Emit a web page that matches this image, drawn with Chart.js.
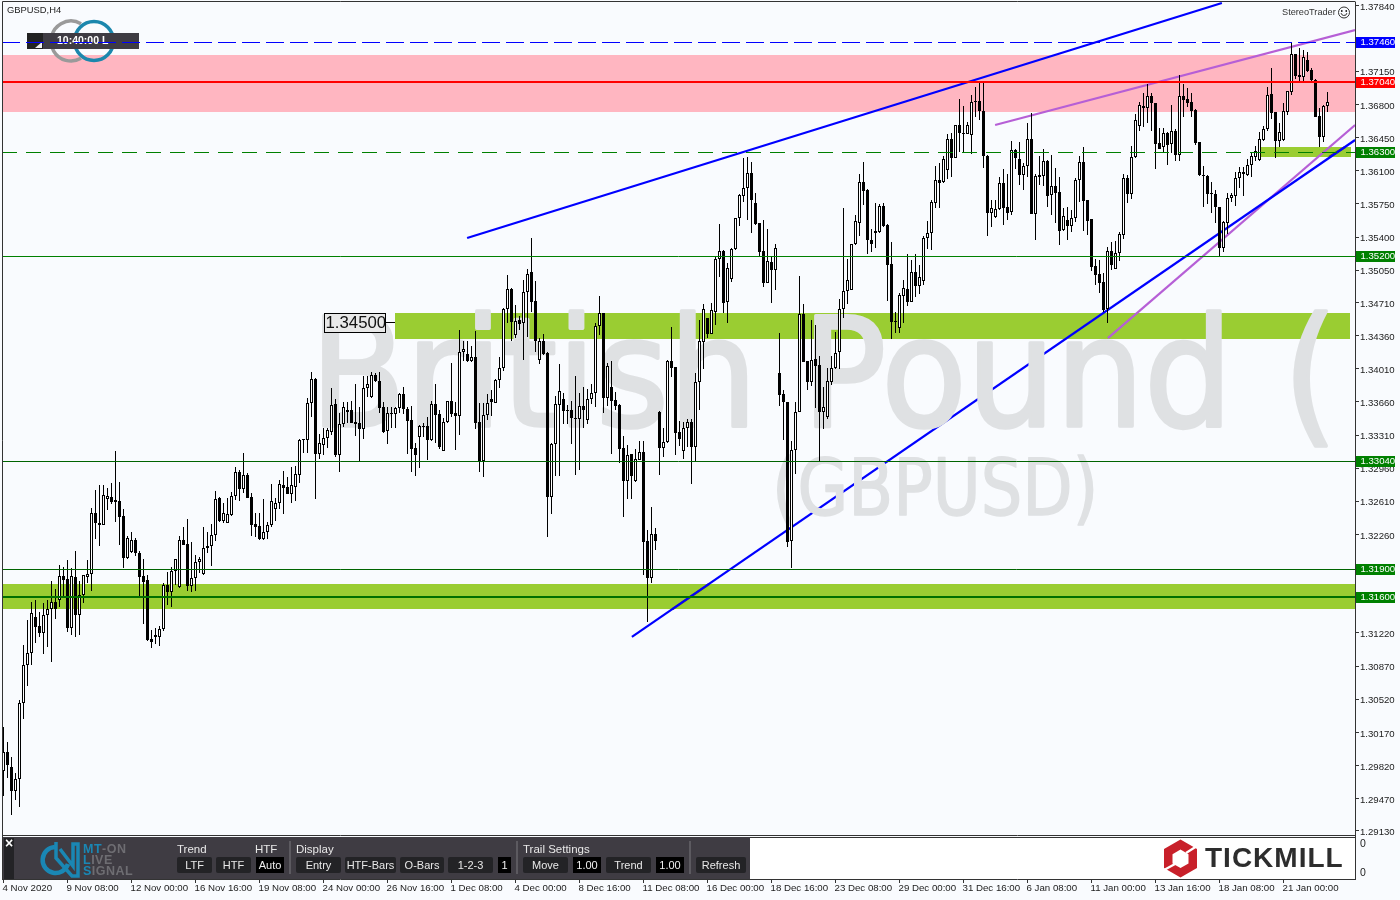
<!DOCTYPE html>
<html><head><meta charset="utf-8"><title>GBPUSD,H4</title>
<script src="https://cdn.jsdelivr.net/npm/chart.js@4"></script>
<style>
html,body{margin:0;padding:0;background:#f9fbfe;width:1400px;height:900px;overflow:hidden;font-family:"Liberation Sans",Arial,sans-serif}
#c{position:absolute;left:0;top:0}
.abs{position:absolute;white-space:nowrap}
#sub{left:3px;top:837px;width:1352px;height:42px;background:#fff;border-top:1px solid #333;box-sizing:border-box}
#panel{left:3px;top:837px;width:747px;height:42px;background:#3f3c43}
.lbl{color:#e8e8e8;font-size:11.5px;line-height:14px}
.btn{background:#232326;color:#e8e8e8;font-size:11px;height:16px;line-height:16px;text-align:center;border-radius:2px}
.blk{background:#000;color:#f0f0f0;border-radius:0}
.div{background:#5c5a60;width:2px;height:33px;top:841px}
.ml{font:bold 12.5px "Liberation Sans",Arial,sans-serif;letter-spacing:0.5px;color:#6e6d72;line-height:11px}
.ml b{color:#1a87b4}
</style></head><body>
<canvas id="c" width="1400" height="900"></canvas>
<div class="abs" id="sub"></div>
<div class="abs" id="panel"></div>
<div id="tools"></div>
<svg class="abs" style="left:1160px;top:837px" width="42" height="42" viewBox="1160 837 42 42">
<path fill="#c8202a" fill-rule="evenodd" d="M1180.5 839.5L1197 849V868L1180.5 877.5L1164 868V849ZM1180.5 849.5L1172.5 854.2V863.4L1180.5 868L1188.5 863.4V854.2Z"/>
<path stroke="#fff" stroke-width="2.2" d="M1186 853L1197 846M1164 870L1175 864"/>
</svg>
<div class="abs" style="left:1205px;top:841px;font:bold 28px 'Liberation Sans',Arial,sans-serif;letter-spacing:1px;color:#2d2d2d;line-height:34px">TICKMILL</div>
<div class="abs" style="left:1360px;top:837px;font-size:10.5px;color:#222">0</div>
<div class="abs" style="left:1360px;top:866px;font-size:10.5px;color:#222">0</div>
<svg class="abs" style="left:40px;top:842px" width="42" height="36" viewBox="0 0 42 36">
<path d="M15 5A13 13 0 1 0 28 22" fill="none" stroke="#1a87b4" stroke-width="4.5"/>
<path d="M16 0V16L32 34H38V2H33V24L20 7" fill="none" stroke="#1a87b4" stroke-width="3.5"/>
</svg>
<div class="abs ml" style="left:83px;top:844px"><b>MT</b>-ON</div>
<div class="abs ml" style="left:83px;top:855px"><b>L</b>IVE</div>
<div class="abs ml" style="left:83px;top:866px"><b>S</b>IGNAL</div>
<script>
const opens=[1.29767,1.29968,1.29802,1.29556,1.29676,1.30478,1.30879,1.31006,1.31386,1.31294,
1.31224,1.31407,1.31470,1.31544,1.31565,1.31819,1.31787,1.31277,1.31808,1.31414,
1.31618,1.31815,1.31840,1.32484,1.32378,1.32364,1.32632,1.32653,1.32621,1.32611,
1.32452,1.32016,1.32076,1.32199,1.32062,1.31822,1.31777,1.31154,1.31196,1.31182,
1.31259,1.31724,1.31657,1.31872,1.31710,1.32199,1.32157,1.31720,1.31798,1.31967,
1.31843,1.32114,1.32142,1.32252,1.32642,1.32406,1.32378,1.32466,1.32663,1.32917,
1.32744,1.32885,1.32653,1.32368,1.32346,1.32209,1.32283,1.32357,1.32533,1.32589,
1.32779,1.32758,1.32691,1.32765,1.32885,1.33265,1.33261,1.33652,1.33898,1.33114,
1.33209,1.33275,1.33346,1.33634,1.33103,1.33430,1.33550,1.33571,1.33444,1.33434,
1.33378,1.33803,1.33712,1.33941,1.33877,1.33603,1.33356,1.33536,1.33529,1.33592,
1.33740,1.33582,1.33466,1.33173,1.33293,1.33406,1.33402,1.33261,1.33634,1.33529,
1.33145,1.33445,1.33666,1.33543,1.33515,1.34184,1.34162,1.34096,1.34131,1.33448,
1.33040,1.33518,1.33687,1.33652,1.33888,1.34015,1.34637,1.34849,1.34370,1.34521,
1.34490,1.34817,1.35028,1.34722,1.34099,1.34300,1.34177,1.32660,1.33212,1.33631,
1.33687,1.33571,1.33571,1.33487,1.33483,1.33613,1.33473,1.33687,1.33758,1.34458,
1.34595,1.33705,1.33814,1.33677,1.33628,1.33170,1.32829,1.33110,1.32829,1.33047,
1.33128,1.32192,1.31805,1.32266,1.33554,1.33177,1.33233,1.34088,1.34025,1.33338,
1.33138,1.33381,1.33444,1.33180,1.33866,1.34289,1.34542,1.34380,1.34612,1.35165,
1.35249,1.34718,1.34961,1.35270,1.35598,1.35837,1.35914,1.36073,1.35756,1.35545,
1.35249,1.34918,1.35137,1.35052,1.33961,1.33740,1.33655,1.32195,1.33148,1.33557,
1.34588,1.34091,1.33870,1.34109,1.34046,1.33557,1.33497,1.33870,1.34021,1.34183,
1.34637,1.34827,1.34845,1.35323,1.35552,1.35978,1.35897,1.35369,1.35464,1.35453,
1.35728,1.35528,1.35116,1.34514,1.34437,1.34782,1.34852,1.34718,1.35028,1.34887,
1.34940,1.35387,1.35440,1.35763,1.35999,1.35985,1.36105,1.36432,1.36239,1.36580,
1.36499,1.36492,1.36474,1.36833,1.36833,1.36728,1.36256,1.35658,1.35616,1.35693,
1.35968,1.35714,1.35668,1.36316,1.36224,1.36059,1.36147,1.36432,1.35640,1.36052,
1.36048,1.36200,1.35841,1.35936,1.35873,1.35478,1.35580,1.35521,1.35598,1.35999,
1.36189,1.35788,1.35588,1.35091,1.35010,1.34926,1.34637,1.35249,1.35066,1.35228,
1.35425,1.36020,1.35858,1.36242,1.36576,1.36780,1.36766,1.36886,1.36812,1.36390,
1.36347,1.36495,1.36383,1.36516,1.36263,1.36886,1.36854,1.36826,1.36738,1.36400,
1.36052,1.36045,1.35862,1.35855,1.35714,1.35281,1.35552,1.35809,1.35837,1.36020,
1.36083,1.36059,1.36157,1.36249,1.36210,1.36428,1.36537,1.36907,1.36717,1.36418,
1.36425,1.36724,1.36935,1.37329,1.37090,1.37093,1.37266,1.37160,1.37062,1.36675,1.36460,1.36780];
const closes=[1.29968,1.29827,1.29556,1.29676,1.30478,1.30879,1.31006,1.31428,1.31287,1.31224,
1.31407,1.31470,1.31544,1.31477,1.31819,1.31784,1.31277,1.31819,1.31414,1.31618,
1.31829,1.31840,1.32484,1.32385,1.32364,1.32674,1.32663,1.32603,1.32603,1.32449,
1.32016,1.32220,1.32199,1.32069,1.31815,1.31762,1.31147,1.31125,1.31182,1.31259,
1.31724,1.31653,1.31872,1.31998,1.32199,1.32153,1.31720,1.31798,1.31967,1.31998,
1.32114,1.32142,1.32252,1.32632,1.32406,1.32484,1.32473,1.32663,1.32917,1.32744,
1.32885,1.32649,1.32364,1.32343,1.32209,1.32283,1.32357,1.32610,1.32589,1.32790,
1.32755,1.32691,1.32779,1.32895,1.33254,1.33254,1.33645,1.33898,1.33114,1.33223,
1.33275,1.33360,1.33624,1.33103,1.33423,1.33603,1.33571,1.33441,1.33423,1.33378,
1.33803,1.33846,1.33941,1.33877,1.33599,1.33342,1.33539,1.33539,1.33592,1.33740,
1.33582,1.33462,1.33166,1.33103,1.33402,1.33399,1.33261,1.33634,1.33525,1.33180,
1.33445,1.33666,1.33532,1.33515,1.34184,1.34215,1.34096,1.34131,1.33441,1.33033,
1.33518,1.33645,1.33663,1.33891,1.34015,1.34637,1.34849,1.34500,1.34518,1.34479,
1.34817,1.35007,1.34718,1.34307,1.34303,1.34162,1.32660,1.33216,1.33635,1.33772,
1.33568,1.33564,1.33490,1.33483,1.33613,1.33578,1.33687,1.33751,1.34458,1.34595,
1.33705,1.34036,1.33673,1.33620,1.33163,1.32829,1.33096,1.32878,1.33054,1.33128,
1.32185,1.31805,1.32266,1.32195,1.33174,1.33233,1.34095,1.34021,1.33335,1.33272,
1.33381,1.33448,1.33180,1.33866,1.34299,1.34637,1.34377,1.34626,1.35165,1.35249,
1.34707,1.35070,1.35274,1.35598,1.35844,1.35914,1.36073,1.35791,1.35541,1.35246,
1.34918,1.35144,1.35052,1.35288,1.33736,1.33655,1.32184,1.33148,1.33557,1.34584,
1.34084,1.33870,1.34099,1.34039,1.33557,1.33606,1.33877,1.34021,1.34172,1.34637,
1.34827,1.34947,1.35323,1.35566,1.35978,1.35890,1.35372,1.35327,1.35446,1.35728,
1.35517,1.35109,1.34507,1.34507,1.34785,1.34859,1.34715,1.35028,1.34887,1.34975,
1.35387,1.35440,1.35767,1.35999,1.35975,1.36221,1.36432,1.36239,1.36580,1.36495,
1.36492,1.36580,1.36823,1.36823,1.36728,1.36260,1.35658,1.35704,1.35693,1.35968,
1.35711,1.35658,1.36316,1.36239,1.36056,1.36147,1.36432,1.35647,1.36041,1.36038,
1.36200,1.35834,1.35936,1.35869,1.35468,1.35619,1.35521,1.35598,1.35999,1.36189,
1.35785,1.35573,1.35088,1.35003,1.34915,1.34630,1.35249,1.35105,1.35228,1.35432,
1.36020,1.35855,1.36242,1.36632,1.36791,1.36763,1.36886,1.36812,1.36383,1.36333,
1.36495,1.36375,1.36516,1.36263,1.36886,1.36851,1.36815,1.36734,1.36397,1.36052,
1.36045,1.35858,1.35855,1.35714,1.35281,1.35556,1.35809,1.35841,1.36020,1.36083,
1.36062,1.36161,1.36256,1.36305,1.36432,1.36537,1.36896,1.36713,1.36418,1.36506,
1.36727,1.36939,1.37329,1.37104,1.37107,1.37301,1.37157,1.37058,1.36671,1.36460,1.36780,1.36822];
const highs=[1.30232,1.30066,1.29915,1.29746,1.30513,1.31094,1.31358,1.31544,1.31569,1.31442,
1.31537,1.31569,1.31769,1.31685,1.31935,1.31917,1.31988,1.31903,1.32083,1.31769,
1.31836,1.31988,1.32537,1.32727,1.32779,1.32779,1.32751,1.32804,1.33142,1.32815,
1.32526,1.32241,1.32283,1.32220,1.32083,1.31998,1.31833,1.31249,1.31270,1.31291,
1.31745,1.31861,1.31917,1.31998,1.32241,1.32336,1.32420,1.32178,1.32040,1.32019,
1.32336,1.32283,1.32368,1.32720,1.32653,1.32596,1.32646,1.32709,1.32969,1.32941,
1.33121,1.32906,1.32695,1.32484,1.32491,1.32639,1.32396,1.32790,1.32642,1.32832,
1.32927,1.32864,1.32969,1.32983,1.33265,1.33265,1.33698,1.33972,1.33909,1.33321,
1.33381,1.33381,1.33807,1.33687,1.33539,1.33663,1.33659,1.33673,1.33849,1.33610,
1.33930,1.33930,1.33972,1.33962,1.33972,1.33663,1.33610,1.33603,1.33603,1.33751,
1.33814,1.33603,1.33617,1.33223,1.33416,1.33434,1.33504,1.33673,1.33849,1.33575,
1.33490,1.33666,1.34067,1.33659,1.34419,1.34300,1.34300,1.34250,1.34409,1.33652,
1.33652,1.33744,1.33786,1.33898,1.34134,1.34648,1.35000,1.34859,1.34687,1.34571,
1.34947,1.35063,1.35387,1.34937,1.34331,1.34374,1.34187,1.33223,1.33723,1.34060,
1.33754,1.33631,1.33666,1.33934,1.33758,1.33814,1.33800,1.33849,1.34497,1.34778,
1.34602,1.34067,1.34092,1.33761,1.33642,1.33300,1.33202,1.33110,1.33163,1.33247,
1.33247,1.32308,1.32554,1.32325,1.33561,1.33381,1.34102,1.34450,1.34032,1.33458,
1.33451,1.33476,1.33476,1.33961,1.34524,1.34690,1.34549,1.34700,1.35193,1.35538,
1.35263,1.35123,1.35281,1.35598,1.35851,1.36231,1.36242,1.36196,1.35862,1.35552,
1.35580,1.35481,1.35193,1.35323,1.34387,1.33785,1.33662,1.33247,1.33655,1.34989,
1.34693,1.34091,1.34524,1.34472,1.34144,1.33821,1.34014,1.34144,1.34401,1.34746,
1.35703,1.35172,1.35327,1.35633,1.36066,1.36192,1.35904,1.35481,1.35763,1.35745,
1.35763,1.35535,1.35348,1.34613,1.34806,1.34947,1.35222,1.35158,1.35222,1.35105,
1.35412,1.35570,1.35792,1.36147,1.36186,1.36256,1.36488,1.36495,1.36583,1.36858,
1.36784,1.36619,1.36900,1.36981,1.37030,1.37030,1.36263,1.35788,1.35788,1.36031,
1.36119,1.36066,1.36414,1.36334,1.36407,1.36179,1.36608,1.36707,1.36066,1.36256,
1.36326,1.36214,1.36270,1.36126,1.36031,1.35704,1.35714,1.35686,1.36020,1.36256,
1.36348,1.35795,1.35595,1.35169,1.35158,1.35017,1.35299,1.35351,1.35362,1.35457,
1.36062,1.36055,1.36361,1.36699,1.36826,1.36917,1.37012,1.36917,1.36819,1.36548,
1.36548,1.36513,1.36798,1.36537,1.37107,1.37012,1.36970,1.36917,1.36748,1.36404,
1.36150,1.36052,1.35985,1.35897,1.35721,1.35566,1.35869,1.35862,1.36090,1.36143,
1.36143,1.36221,1.36302,1.36361,1.36506,1.36573,1.36981,1.37185,1.36724,1.36601,
1.36812,1.36946,1.37452,1.37329,1.37392,1.37375,1.37357,1.37181,1.37069,1.36759,1.36794,1.36931];
const lows=[1.29503,1.29693,1.29299,1.29457,1.29387,1.30316,1.30661,1.30886,1.31118,1.31182,
1.31002,1.31076,1.30918,1.31368,1.31498,1.31604,1.31235,1.31203,1.31182,1.31203,
1.31541,1.31748,1.31667,1.32213,1.32139,1.32364,1.32519,1.32582,1.32392,1.32150,
1.31907,1.32002,1.32062,1.32033,1.31611,1.31316,1.31136,1.31062,1.31104,1.31087,
1.31245,1.31516,1.31498,1.31727,1.31699,1.32146,1.31664,1.31653,1.31667,1.31850,
1.31833,1.32065,1.31928,1.32192,1.32392,1.32385,1.32378,1.32456,1.32624,1.32617,
1.32695,1.32642,1.32244,1.32230,1.32202,1.32202,1.32209,1.32336,1.32406,1.32526,
1.32477,1.32688,1.32589,1.32617,1.32807,1.33117,1.33117,1.33504,1.32639,1.33054,
1.33103,1.33170,1.33311,1.33075,1.32924,1.33399,1.33434,1.33434,1.33304,1.33036,
1.33272,1.33708,1.33698,1.33870,1.33539,1.33335,1.33219,1.33388,1.33385,1.33539,
1.33529,1.33107,1.32920,1.32881,1.32962,1.33293,1.33047,1.33251,1.33223,1.33166,
1.33145,1.33437,1.33504,1.33152,1.33311,1.34092,1.34085,1.34078,1.33374,1.32920,
1.32871,1.33469,1.33515,1.33645,1.33807,1.33990,1.34497,1.34307,1.34331,1.34419,
1.34103,1.34349,1.34613,1.34191,1.34060,1.34155,1.32234,1.32477,1.32878,1.32878,
1.33427,1.33427,1.33216,1.32889,1.32941,1.33385,1.33427,1.33638,1.33610,1.34370,
1.33547,1.33617,1.33110,1.33575,1.33012,1.32449,1.32639,1.32639,1.32815,1.33047,
1.31833,1.31340,1.31752,1.32097,1.32889,1.33082,1.33222,1.33926,1.33096,1.33194,
1.33053,1.33187,1.32796,1.33036,1.33574,1.34011,1.34338,1.34377,1.34472,1.34978,
1.34595,1.34496,1.34929,1.35263,1.35520,1.35767,1.35580,1.35446,1.35527,1.35200,
1.34876,1.34911,1.34707,1.34841,1.33616,1.33257,1.32131,1.31903,1.32895,1.33553,
1.34077,1.33785,1.33828,1.33592,1.33036,1.33377,1.33483,1.33838,1.34011,1.34011,
1.34542,1.34693,1.34841,1.35316,1.35415,1.35738,1.35225,1.35242,1.35284,1.35439,
1.35503,1.34729,1.34321,1.34391,1.34391,1.34490,1.34673,1.34715,1.34771,1.34799,
1.34894,1.35271,1.35264,1.35707,1.35707,1.35975,1.36010,1.36038,1.36231,1.36302,
1.36295,1.36488,1.36277,1.36671,1.36636,1.36133,1.35415,1.35510,1.35605,1.35686,
1.35528,1.35580,1.35630,1.36115,1.35953,1.35897,1.36038,1.35640,1.35369,1.35950,
1.35943,1.35718,1.35637,1.35549,1.35317,1.35468,1.35369,1.35457,1.35563,1.35774,
1.35468,1.35422,1.35039,1.34894,1.34813,1.34612,1.34496,1.35052,1.35059,1.35151,
1.35376,1.35756,1.35798,1.36231,1.36516,1.36565,1.36608,1.36520,1.36115,1.36326,
1.36291,1.36157,1.36284,1.36207,1.36207,1.36664,1.36770,1.36664,1.36368,1.36045,
1.35714,1.35749,1.35651,1.35552,1.35197,1.35246,1.35432,1.35774,1.35728,1.35914,
1.35837,1.36045,1.36038,1.36207,1.36207,1.36418,1.36523,1.36646,1.36231,1.36354,
1.36418,1.36692,1.36900,1.37065,1.37051,1.37051,1.37146,1.37051,1.36664,1.36347,1.36404,1.36720];

const xTickBars=[0,16,32,48,64,80,96,112,128,144,160,176,192,208,224,240,256,272,288,304,320];
const xTickLabels=["4 Nov 2020","9 Nov 08:00","12 Nov 00:00","16 Nov 16:00","19 Nov 08:00","24 Nov 00:00","26 Nov 16:00","1 Dec 08:00","4 Dec 00:00","8 Dec 16:00","11 Dec 08:00","16 Dec 00:00","18 Dec 16:00","23 Dec 08:00","29 Dec 00:00","31 Dec 16:00","6 Jan 08:00","11 Jan 00:00","13 Jan 16:00","18 Jan 08:00","21 Jan 00:00"];
const yTicks=[1.3784,1.375,1.3715,1.368,1.3645,1.361,1.3575,1.354,1.3505,1.3471,1.3436,1.3401,1.3366,1.3331,1.3296,1.3261,1.3226,1.3192,1.3157,1.3122,1.3087,1.3052,1.3017,1.2982,1.2947,1.2913];
const yTicksCovered=[1.375,1.3192,1.3157];

const priceLines=[
 {v:1.3704,color:'#ff0000',w:2,tag:'#ff0000'},
 {v:1.3520,color:'#008000',w:1,tag:'#008000'},
 {v:1.3304,color:'#006400',w:1,tag:'#008000'},
 {v:1.3190,color:'#006400',w:1,tag:'#008000'},
 {v:1.3160,color:'#007000',w:2,tag:'#008000'}];
const dashedLines=[
 {v:1.3746,color:'#0000ff',on:18,off:6,tag:'#0000ff'},
 {v:1.3630,color:'#008000',on:15,off:9,tag:'#008000'}];
const trendLines=[
 {pts:[[115.9,1.35390],[304.6,1.37871]],color:'#0000ff'},
 {pts:[[157.1,1.31178],[337.9,1.36425]],color:'#0000ff'},
 {pts:[[167.3,1.31473],[176.4,1.31737]],color:'#6b5a25'},
 {pts:[[331.4,1.36245],[335.4,1.36351]],color:'#65451f'},
 {pts:[[247.9,1.36583],[337.9,1.37586]],color:'#b65fd6'},
 {pts:[[276.1,1.34334],[337.9,1.36583]],color:'#b65fd6'}];
const zones=[
 {x0:-0.375,x1:337.875,hi:1.37322,lo:1.36720,color:'#ffb6c1'},
 {x0:97.875,x1:336.6,hi:1.34598,lo:1.34324,color:'#9acd32'},
 {x0:-0.375,x1:337.875,hi:1.31737,lo:1.31473,color:'#9acd32'},
 {x0:314.4,x1:336.9,hi:1.36351,lo:1.36245,color:'#9acd32'}];

// toolbar widgets
const labelsT=[["Trend",177],["HTF",255],["Display",296],["Trail Settings",523]];
const buttons=[["LTF",177,35],["HTF",216,35],["Auto",256,28,1],["Entry",296,45],["HTF-Bars",345,51],["O-Bars",400,44],["1-2-3",448,45],["1",498,13,1],["Move",523,45],["1.00",573,28,1],["Trend",606,45],["1.00",656,28,1],["Refresh",696,50]];
const dividers=[289,516,689];
const T=document.getElementById('tools');
function add(cls,txt,st){const d=document.createElement('div');d.className='abs '+cls;d.textContent=txt;d.style.cssText=st;T.appendChild(d);}
labelsT.forEach(l=>add('lbl',l[0],`left:${l[1]}px;top:842px`));
buttons.forEach(b=>add('btn'+(b[3]?' blk':''),b[0],`left:${b[1]}px;top:857px;width:${b[2]}px`));
dividers.forEach(x=>add('div','',`left:${x}px`));
add('','',`left:4px;top:838px;width:10px;height:41px;background:#232326`);
add('','×',`left:4px;top:835px;width:10px;text-align:center;color:#fff;font:bold 14px 'Liberation Sans'`);

const FONT='"Liberation Sans",Arial,sans-serif';
function mark(ctx,txt,px,x,y,sx,lw){
 ctx.save();ctx.translate(x,y);ctx.scale(sx,1);
 ctx.font=px+'px "DejaVu Sans",sans-serif';
 ctx.lineWidth=lw;ctx.lineJoin='round';ctx.strokeStyle='#dfe1e3';
 ctx.fillText(txt,0,0);ctx.strokeText(txt,0,0);
 ctx.restore();
}
const bgAndOverlays={
 id:'overlays',
 afterDatasetsUpdate(chart){
  chart.data.datasets.forEach((ds,i)=>{
   const meta=chart.getDatasetMeta(i);
   if(ds.kind==='candle'){
    meta.data.forEach(el=>{
     el.y=Math.round(el.y);el.base=Math.round(el.base);
     if(el.base===el.y)el.base=el.y+1;
    });
   }else if(ds.kind==='hline'){
    meta.data.forEach(el=>{el.y=ds.borderWidth===1?Math.round(el.y)+0.5:Math.round(el.y);});
   }
  });
 },
 beforeDatasetsDraw(chart){
  const {ctx,scales:{x,y},chartArea:a}=chart;
  ctx.save();
  ctx.fillStyle='#f9fbfe';ctx.fillRect(a.left,a.top,a.right-a.left,a.bottom-a.top);
  zones.forEach(z=>{
   const t=Math.round(y.getPixelForValue(z.hi)),b=Math.round(y.getPixelForValue(z.lo));
   const l=Math.round(x.getPixelForValue(z.x0)),r=Math.round(x.getPixelForValue(z.x1));
   ctx.fillStyle=z.color;ctx.fillRect(l,t,r-l,b-t);
  });
  // clock badge with rings
  ctx.lineWidth=3.5;
  ctx.strokeStyle='#9a9a9a';ctx.beginPath();ctx.arc(71,41,20,Math.PI/3,Math.PI*5/3);ctx.stroke();
  ctx.strokeStyle='#1b87ad';ctx.beginPath();ctx.arc(94,41,19.5,0,Math.PI*2);ctx.stroke();
  ctx.fillStyle='#3f3c43';ctx.fillRect(27,33,112,16);
  ctx.fillStyle='#222';ctx.fillRect(27,33,16,16);
  ctx.fillStyle='#eee';ctx.beginPath();ctx.moveTo(42,42);ctx.lineTo(42,48);ctx.lineTo(35,48);ctx.closePath();ctx.fill();
  ctx.fillStyle='#fff';ctx.font='bold 10.5px '+FONT;ctx.textAlign='left';ctx.textBaseline='middle';
  ctx.fillText('10:40:00 L',57,41.5);
  ctx.restore();
 },
 beforeDatasetDraw(chart,args){
  if(chart.data.datasets[args.index].wick){
   const {ctx,chartArea:a}=chart;
   ctx.save();
   ctx.beginPath();ctx.rect(a.left,a.top,a.right-a.left,833);ctx.clip();
   ctx.fillStyle='#dfe1e3';ctx.textAlign='left';ctx.textBaseline='alphabetic';
   mark(ctx,'British Pound',152,310,426,0.92,3.5);
   mark(ctx,'(',152,1283,426,0.92,3.5);
   mark(ctx,'(GBPUSD)',78,772,515,0.84,1.5);
   ctx.restore();
  }
 },
 afterDatasetsDraw(chart){
  const {ctx,scales:{y},chartArea:a}=chart;
  ctx.save();
  dashedLines.forEach(l=>{
   const row=Math.round(y.getPixelForValue(l.v));
   ctx.fillStyle=l.color;
   for(let px=a.left;px<a.right;px+=l.on+l.off){ctx.fillRect(px,row,Math.min(l.on,a.right-px),1);}
  });
  ctx.restore();
 },
 afterDraw(chart){
  const {ctx,scales:{y},chartArea:a}=chart;
  ctx.save();
  // frame
  ctx.strokeStyle='#333';ctx.lineWidth=1;
  ctx.beginPath();
  ctx.moveTo(2.5,879);ctx.lineTo(2.5,1.5);ctx.lineTo(1355.5,1.5);
  ctx.moveTo(2,835.5);ctx.lineTo(1356,835.5);
  ctx.stroke();
  ctx.textBaseline='middle';ctx.textAlign='left';
  ctx.font='9.4px '+FONT;
  ctx.fillStyle='#222';ctx.fillText('GBPUSD,H4',7,10.5);
  ctx.font='9.2px '+FONT;
  ctx.fillStyle='#333';ctx.fillText('StereoTrader',1282,12);
  ctx.strokeStyle='#333';ctx.beginPath();ctx.arc(1344,12.5,5.5,0,Math.PI*2);ctx.stroke();
  ctx.beginPath();ctx.arc(1344,12.5,3,0.2,Math.PI-0.2);ctx.stroke();
  ctx.fillStyle='#333';ctx.fillRect(1341,10,1.5,2);ctx.fillRect(1345.5,10,1.5,2);
  // price tags
  priceLines.concat(dashedLines).forEach(l=>{
   const py=Math.round(y.getPixelForValue(l.v));
   ctx.fillStyle=l.tag;
   ctx.fillRect(1356,py-5,39,11);
   ctx.fillStyle='#fff';ctx.textAlign='left';ctx.font='9.6px '+FONT;
   ctx.fillText(l.v.toFixed(5),1360.5,py+0.5);
  });
  // zone label
  const zy=Math.round(y.getPixelForValue(1.34493));
  ctx.fillStyle='#e8e8e8';ctx.fillRect(325,zy-9,60,18);
  ctx.strokeStyle='#000';ctx.strokeRect(324.5,zy-9.5,61,19);
  ctx.beginPath();ctx.moveTo(386,zy-0.5);ctx.lineTo(395,zy-0.5);ctx.stroke();
  ctx.fillStyle='#111';ctx.font='16.8px '+FONT;ctx.textBaseline='middle';ctx.fillText('1.34500',325.5,zy+0.5);
  ctx.restore();
 }
};

const datasets=[];
trendLines.forEach(t=>datasets.push({type:'line',kind:'trend',order:5,data:t.pts.map(p=>({x:p[0],y:p[1]})),borderColor:t.color,borderWidth:2.2,pointRadius:0,tension:0,fill:false}));
datasets.push({type:'bar',kind:'candle',wick:true,order:3,data:lows.map((l,i)=>({x:i,y:[l,highs[i]]})),backgroundColor:'#000',borderWidth:0,barThickness:1,grouped:false,borderSkipped:false,inflateAmount:0});
datasets.push({type:'bar',kind:'candle',order:2,data:opens.map((o,i)=>({x:i,y:[o,closes[i]]})),backgroundColor:opens.map((o,i)=>closes[i]>=o?'#ffffff':'#000000'),borderColor:'#000',borderWidth:1,barThickness:3,grouped:false,borderSkipped:false,inflateAmount:0});
priceLines.forEach(l=>datasets.push({type:'line',kind:'hline',order:1,data:[{x:-0.375,y:l.v},{x:337.875,y:l.v}],borderColor:l.color,borderWidth:l.w,pointRadius:0,tension:0,fill:false}));

new Chart(document.getElementById('c'),{
 type:'bar',
 data:{datasets},
 plugins:[bgAndOverlays],
 options:{
  responsive:false,animation:false,devicePixelRatio:1,
  layout:{padding:{left:2,top:2,right:0,bottom:0}},
  plugins:{legend:{display:false},tooltip:{enabled:false},title:{display:false}},
  datasets:{bar:{grouped:false}},
  scales:{
   x:{type:'linear',position:'bottom',offset:false,min:-0.375,max:337.875,
    grid:{display:true,drawOnChartArea:false,drawTicks:true,tickLength:4,tickColor:'#333',offset:false},
    border:{color:'#333'},
    ticks:{autoSkip:false,maxRotation:0,minRotation:0,align:'start',padding:0,labelOffset:-1,color:'#222',font:{family:FONT,size:9.7},
     callback:v=>{const k=xTickBars.indexOf(v);return k<0?'':xTickLabels[k];}},
    afterBuildTicks:s=>{s.ticks=xTickBars.map(v=>({value:v}));},
    afterFit:s=>{s.height=21;s.paddingLeft=0;s.paddingRight=0;}
   },
   y:{type:'linear',position:'right',min:1.286225,max:1.37882,
    grid:{display:true,drawOnChartArea:false,drawTicks:true,tickLength:4,tickColor:'#333'},
    border:{color:'#333'},
    ticks:{autoSkip:false,padding:1,labelOffset:1.5,color:'#222',crossAlign:'near',font:{family:FONT,size:9.6},callback:v=>yTicksCovered.includes(v)?'':v.toFixed(5)},
    afterBuildTicks:s=>{s.ticks=yTicks.map(v=>({value:v}));},
    afterFit:s=>{s.width=45;s.paddingTop=0;s.paddingBottom=0;}
   }
  }
 }
});
</script>
</body></html>
